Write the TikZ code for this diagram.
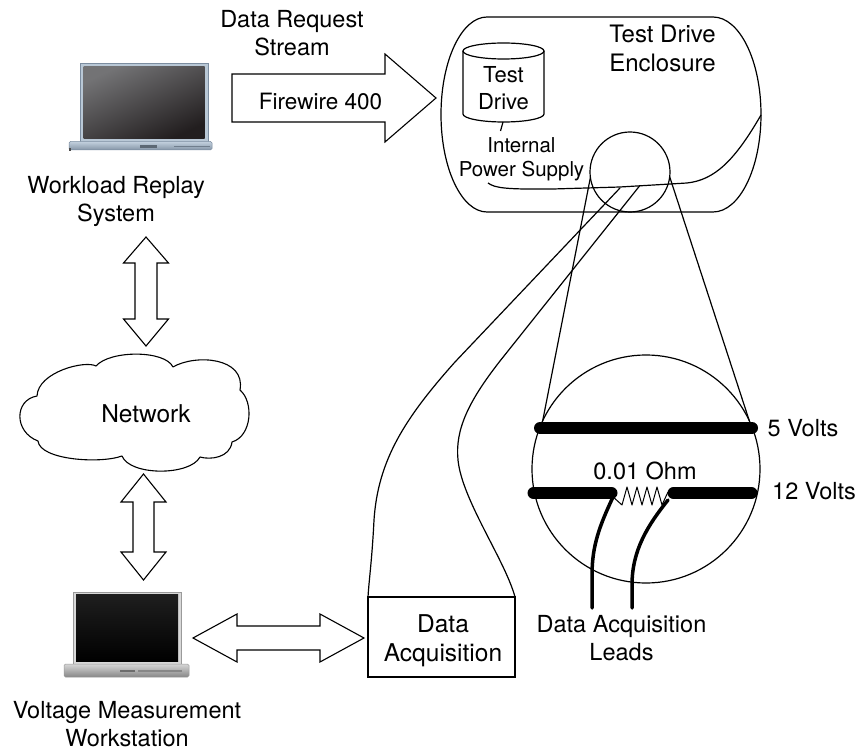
\documentclass[tikz,border=0pt]{standalone}
\usepackage{fontspec}
\setmainfont{TeX Gyre Heros}
\begin{document}
\definecolor{lidblue}{HTML}{B9C8D6}
\definecolor{lidblueedge}{HTML}{7C8DA0}
\definecolor{scrtop}{HTML}{737375}
\definecolor{scrbot}{HTML}{221E1F}
\definecolor{baseblueT}{HTML}{C3D1DE}
\definecolor{baseblueB}{HTML}{8494A6}
\definecolor{lidgray}{HTML}{D8D8D8}
\definecolor{lidgrayedge}{HTML}{9A9A9A}
\definecolor{basegrayT}{HTML}{D6D6D6}
\definecolor{basegrayB}{HTML}{878787}
\begin{tikzpicture}[x=1pt,y=-1pt,
  outline/.style={draw=black, line width=1.2pt, line join=round},
  blockarrow/.style={draw=black, fill=white, line width=1.1pt, line join=miter},
  bar/.style={line width=12pt, line cap=round},
  lead/.style={line width=3.5pt, line cap=round},
  lbl/.style={inner sep=0pt, align=center, font=\fontsize{23.5}{28}\selectfont},
  ring/.style={circle, draw=black, line width=1.2pt, inner sep=0pt, outer sep=0pt}]

\fill[white] (0,0) rectangle (860,751);
\useasboundingbox (0,0) rectangle (860,751);

% ---------- replay laptop (blue) ----------
\fill[lidblue, draw=lidblueedge, line width=0.6pt] (80,63) rectangle (208,142);
\shade[top color=scrtop, bottom color=scrbot, shading angle=25] (83.5,66.5) rectangle (204.5,139);
\shade[top color=baseblueT, bottom color=baseblueB, draw=lidblueedge, line width=0.5pt, rounded corners=1.5pt] (69,141.5) rectangle (212,150);
\fill[baseblueB!70!black] (140,145.5) rectangle (157,148.5);
\fill[baseblueB!85!black] (174,145.8) rectangle (210,147.3);
\fill[black!70] (69,148.5) rectangle (71,151);
\coordinate (replaypc) at (140,106);

% ---------- measurement laptop (silver) ----------
\fill[lidgray, draw=lidgrayedge, line width=0.6pt] (73,592) rectangle (181,664);
\shade[top color=black!88, bottom color=black] (76,594.5) rectangle (178,661.5);
\shade[top color=basegrayT, bottom color=basegrayB, draw=lidgrayedge, line width=0.5pt, rounded corners=1.5pt] (64,664) rectangle (189,677);
\fill[basegrayB!80!black] (120,669.5) rectangle (135,672);
\fill[basegrayB] (138,670) rectangle (182,671.5);
\coordinate (measpc) at (127,628);

% ---------- labels ----------
\node[lbl] (reqtxt) at (292,33) {Data Request\\Stream};
\node[lbl] (replay) at (116,201) {Workload Replay\\System};
\node[lbl] (vmw) at (127,724.5) {Voltage Measurement\\Workstation};

% ---------- block arrows ----------
\draw[blockarrow] (232,74) -- (385,74) -- (385,54) -- (436,98) -- (385,142) -- (385,122) -- (232,122) -- cycle;
\node[lbl, font=\fontsize{22.5}{27}\selectfont] (fw) at (320.5,101.5) {Firewire 400};

\draw[blockarrow] (146,237) -- (168.5,263) -- (157,263) -- (157,319) -- (168.5,319) -- (146,346)
  -- (123.5,319) -- (135,319) -- (135,263) -- (123.5,263) -- cycle;
\draw[blockarrow] (143.5,474) -- (166,502) -- (154,502) -- (154,552) -- (166,552) -- (143.5,580)
  -- (121,552) -- (133,552) -- (133,502) -- (121,502) -- cycle;
\draw[blockarrow] (193,638) -- (237,614) -- (237,626) -- (320,626) -- (320,614) -- (364,638)
  -- (320,662) -- (320,650) -- (237,650) -- (237,662) -- cycle;

% ---------- network cloud ----------
\draw[outline, line width=1.1pt] (96,366) .. controls (110,350) and (165,350) .. (173,367)
  .. controls (195,354) and (246,357) .. (240,390)
  .. controls (254,402) and (252,436) .. (232,442)
  .. controls (230,458) and (210,460) .. (200,457)
  .. controls (190,476) and (130,476) .. (122,456)
  .. controls (100,464) and (40,460) .. (38,441)
  .. controls (14,432) and (14,400) .. (37,396)
  .. controls (38,372) and (85,360) .. (96,366) -- cycle;
\node[lbl, font=\fontsize{24.5}{29}\selectfont] (net) at (146,413.5) {Network};

% ---------- data acquisition box ----------
\node[draw=black, line width=1.2pt, minimum width=147pt, minimum height=80pt, inner sep=0pt, outer sep=0pt] (daq) at (441.5,637) {};
\node[lbl, font=\fontsize{24.5}{29}\selectfont] (daqtxt) at (443,641) {Data\\Acquisition};

% ---------- test drive enclosure ----------
\draw[outline] (487,17) -- (713,17)
  arc[start angle=90, end angle=-90, x radius=48pt, y radius=97.5pt]
  -- (487,212)
  arc[start angle=270, end angle=90, x radius=46pt, y radius=97.5pt] -- cycle;
\node[lbl, font=\fontsize{24}{29}\selectfont] (encl) at (662.5,48) {Test Drive\\Enclosure};

% drive cylinder
\draw[outline] (463,51) -- (463,114) arc[start angle=180, end angle=360, x radius=40.5pt, y radius=8pt] -- (544,51);
\draw[outline] (503.5,51) ellipse[x radius=40.5pt, y radius=8pt];
\node[lbl, font=\fontsize{22}{27}\selectfont] (drive) at (503.5,88.5) {Test\\Drive};
\draw[outline] (503,122) -- (500.5,131);
\node[lbl, font=\fontsize{20.5}{24}\selectfont] (psu) at (521.5,159.5) {Internal\\Power Supply};

% power cable inside the enclosure
\draw[outline] (488,183) .. controls (495,188) and (505,189.5) .. (553,189) -- (620,187) -- (687,183)
  .. controls (715,180) and (735,160) .. (761,115);
\coordinate (tapA) at (620,188);
\coordinate (tapB) at (639.5,186);

% magnified region
\node[ring, minimum size=80pt] (mag) at (630,172) {};
\node[ring, minimum size=228pt] (big) at (646,469) {};
\draw[outline] (mag.188) -- (big.155);
\draw[outline] (mag.353) -- (big.25);

% cables to the acquisition box
\draw[outline] (tapA) -- (455,362) .. controls (405,418) and (378,460) .. (374,520)
  .. controls (372,560) and (369,580) .. (daq.north west);
\draw[outline] (tapB) -- (500,361) .. controls (468,402) and (455,430) .. (458,460)
  .. controls (462,500) and (505,560) .. (daq.north east);

% rails and shunt
\draw[outline, line width=1pt] (612,496) -- (622,505) -- (627,487) -- (632,505) -- (637,487) -- (642,505)
  -- (647,487) -- (652,505) -- (657,487) -- (662,505) -- (668,492);
\draw[bar] (540,428) -- (752,428);
\draw[bar] (533.5,493) -- (611.5,493);
\draw[bar] (673.5,493) -- (751.5,493);
\node[lbl] (v5) at (803,428) {5 Volts};
\node[lbl] (v12) at (814,491) {12 Volts};
\node[lbl] (ohm) at (645,470.5) {0.01 Ohm};

% acquisition leads
\draw[lead] (613,497) .. controls (600,525) and (592,545) .. (592,575) -- (592,608);
\draw[lead] (668,500) .. controls (648,525) and (632,550) .. (632,585) -- (632,608);
\node[lbl] (leads) at (621.5,638.5) {Data Acquisition\\Leads};
\end{tikzpicture}
\end{document}
